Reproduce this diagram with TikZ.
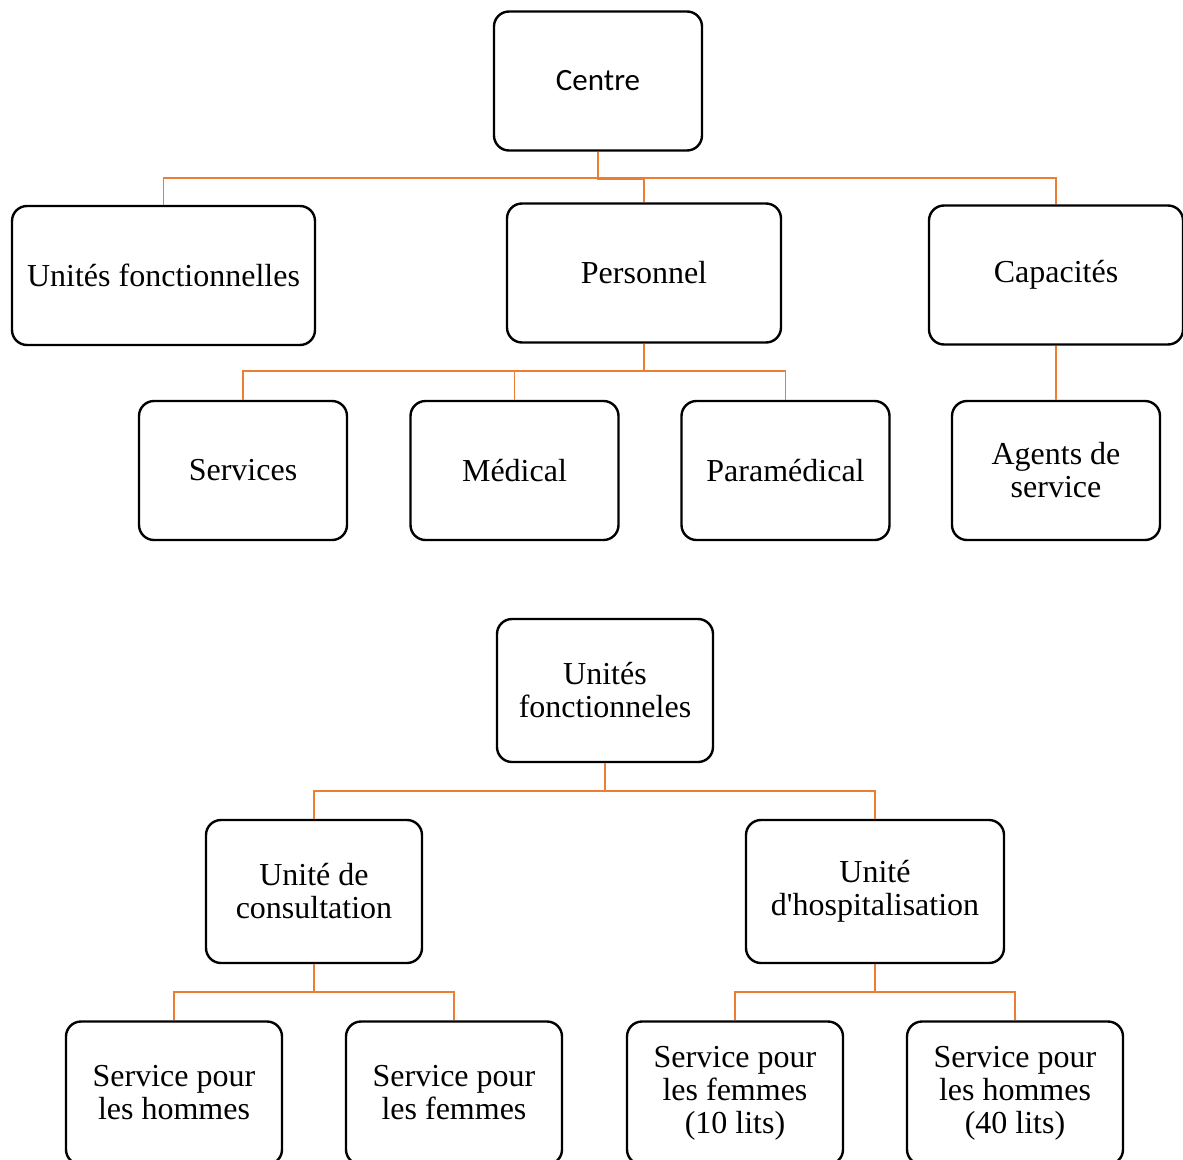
\documentclass[tikz,border=0pt]{standalone}
\usepackage{fontspec}
\setmainfont{Liberation Serif}
\newfontfamily\calibri{Carlito}
\definecolor{orangeliaison}{RGB}{237,125,49}
\begin{document}
\begin{tikzpicture}[x=1pt, y=-1pt,
  boite/.style={draw, line width=2.4pt, rounded corners=15pt, align=center,
    font=\fontsize{32}{33}\selectfont, minimum width=208pt, minimum height=139pt},
  lien/.style={draw=orangeliaison, line width=1.3pt}]
\useasboundingbox (0,0) rectangle (1183,1159);
% premier organigramme
\node[boite, font=\calibri\fontsize{31}{33}\selectfont] (ctr) at (598,81) {Centre};
\node[boite, minimum width=303pt] (uf) at (163.5,275.5) {Unités fonctionnelles};
\node[boite, minimum width=274pt] (pers) at (644,273) {Personnel};
\node[boite, minimum width=254pt] (cap) at (1056,275) {\raisebox{-3pt}{Capacités}};
\node[boite] (serv) at (243,470.5) {Services};
\node[boite] (med) at (514.5,470.5) {Médical};
\node[boite] (para) at (785.5,470.5) {Paramédical};
\node[boite] (agt) at (1056,470.5) {Agents de\\service};
\coordinate (b1) at (598,178);
\coordinate (b2) at (644,371);
\draw[lien] (ctr) -- ([yshift=-1pt]b1) -| (pers.north);
\draw[lien] (uf.north) -- (uf.north |- b1) -- (cap.north |- b1) -- (cap.north);
\draw[lien] (pers.south) -- (b2);
\draw[lien] (serv.north) -- (serv.north |- b2) -- (para.north |- b2) -- (para.north);
\draw[lien] (med.north) -- (med.north |- b2);
\draw[lien, line width=2.2pt] (cap.south) -- (agt.north);
% second organigramme
\node[boite, minimum width=216pt, minimum height=143pt] (uf2) at (605,690.5) {Unités\\fonctionneles};
\node[boite, minimum width=216pt, minimum height=143pt] (ucons) at (314,891.5) {Unité de\\consultation};
\node[boite, minimum width=258pt, minimum height=143pt] (uhosp) at (875,891.5) {Unité\\d\textquotesingle hospitalisation};
\node[boite, minimum width=216pt, minimum height=143pt] (ch) at (174,1093) {Service pour\\les hommes};
\node[boite, minimum width=216pt, minimum height=143pt] (cf) at (454,1093) {Service pour\\les femmes};
\node[boite, minimum width=216pt, minimum height=143pt] (hf) at (735,1093) {Service pour\\les femmes\\(10 lits)};
\node[boite, minimum width=216pt, minimum height=143pt] (hh) at (1015,1093) {Service pour\\les hommes\\(40 lits)};
\coordinate (b3) at (605,791);
\coordinate (b4) at (314,992);
\coordinate (b5) at (875,992);
\draw[lien] (uf2.south) -- (b3);
\draw[lien] (ucons.north) -- (ucons.north |- b3) -- (uhosp.north |- b3) -- (uhosp.north);
\draw[lien] (ucons.south) -- (b4);
\draw[lien] (ch.north) -- (ch.north |- b4) -- (cf.north |- b4) -- (cf.north);
\draw[lien] (uhosp.south) -- (b5);
\draw[lien] (hf.north) -- (hf.north |- b5) -- (hh.north |- b5) -- (hh.north);
\end{tikzpicture}
\end{document}
